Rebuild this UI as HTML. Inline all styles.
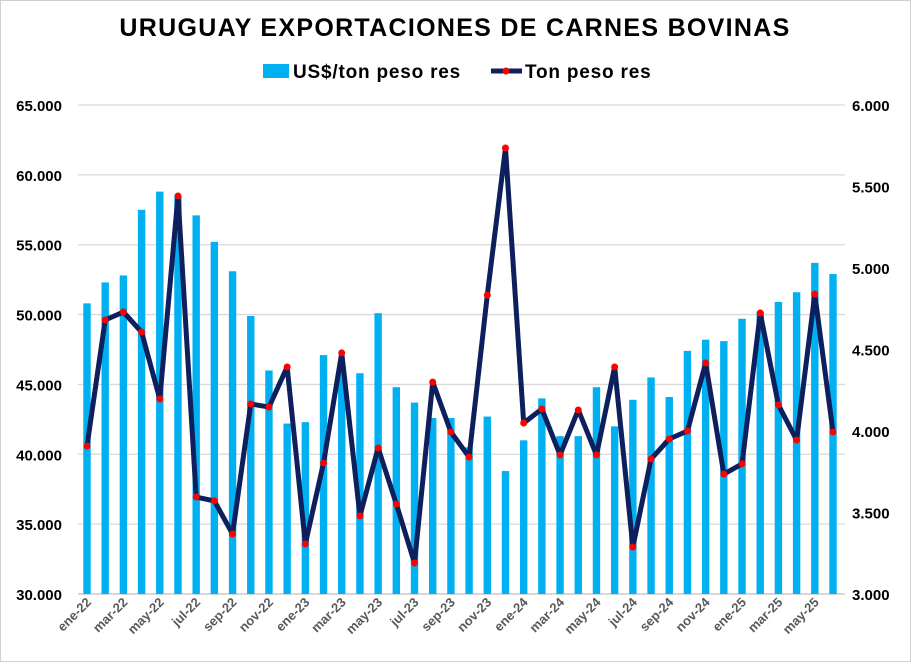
<!DOCTYPE html>
<html><head><meta charset="utf-8"><style>
body{margin:0;background:#fff;font-family:"Liberation Sans",sans-serif;}
</style></head><body>
<svg id="chart" width="911" height="662" xmlns="http://www.w3.org/2000/svg">
<rect x="0.5" y="0.5" width="910" height="661" fill="#fff" stroke="#d0d0d0"/>
<text x="455" y="36" text-anchor="middle" font-size="25" font-weight="bold" letter-spacing="1.3" fill="#000">URUGUAY EXPORTACIONES DE CARNES BOVINAS</text>
<g>
<rect x="263" y="64" width="26" height="14" fill="#00b0f0"/>
<text x="293" y="78" font-size="19" font-weight="bold" letter-spacing="0.8" fill="#000">US$/ton peso res</text>
<line x1="491" y1="71" x2="522" y2="71" stroke="#0d1f5c" stroke-width="5"/>
<circle cx="506" cy="71" r="3.5" fill="#ff0000"/>
<text x="525" y="78" font-size="19" font-weight="bold" letter-spacing="0.8" fill="#000">Ton peso res</text>
</g>
<g id="grid"></g><g id="bars"></g><g id="line"></g><g id="axes"></g>
</svg>
<script>
const months = ["ene-22","feb-22","mar-22","abr-22","may-22","jun-22","jul-22","ago-22","sep-22","oct-22","nov-22","dic-22","ene-23","feb-23","mar-23","abr-23","may-23","jun-23","jul-23","ago-23","sep-23","oct-23","nov-23","dic-23","ene-24","feb-24","mar-24","abr-24","may-24","jun-24","jul-24","ago-24","sep-24","oct-24","nov-24","dic-24","ene-25","feb-25","mar-25","abr-25","may-25","jun-25"];
const priceValues = [50800,52300,52800,57500,58800,58500,57100,55200,53100,49900,46000,42200,42300,47100,46500,45800,50100,44800,43700,42600,42600,40500,42700,38800,41000,44000,41300,41300,44800,42000,43900,45500,44100,47400,48200,48100,49700,50200,50900,51600,53700,52900];
const tonValues = [3908,4681,4730,4607,4196,5442,3595,3571,3368,4166,4147,4393,3307,3804,4479,3479,3896,3552,3190,4300,3994,3840,4834,5736,4049,4135,3853,4129,3853,4393,3288,3828,3951,4000,4417,3736,3798,4724,4160,3945,4840,3994];
const leftTicks = ["30.000","35.000","40.000","45.000","50.000","55.000","60.000","65.000"];
const rightTicks = ["3.000","3.500","4.000","4.500","5.000","5.500","6.000"];
const NS="http://www.w3.org/2000/svg";
const yTop=105,yBottom=594,x0=87,step=(833-87)/41;
const yL=v=>yBottom-(v-30000)/35000*(yBottom-yTop);
const yR=v=>yBottom-(v-3000)/3000*(yBottom-yTop);
const xC=i=>x0+i*step;
function mk(tag,attrs,parent){const e=document.createElementNS(NS,tag);for(const k in attrs)e.setAttribute(k,attrs[k]);document.getElementById(parent).appendChild(e);return e;}
leftTicks.forEach((t,i)=>{
 const v=30000+i*5000,y=yL(v);
 const g=mk("line",{x1:78,x2:845,y1:y,y2:y,stroke:i==0?"#bfbfbf":"#d9d9d9","stroke-width":1.3},"grid");
 
 
 const tx=mk("text",{x:62,y:y+6,"text-anchor":"end","font-size":15,"font-weight":"bold",fill:"#000"},"axes");
 tx.textContent=t;
 
 
});
rightTicks.forEach((t,i)=>{
 const y=yR(3000+i*500);
 const tx=mk("text",{x:852,y:y+6,"font-size":15,"font-weight":"bold",fill:"#000"},"axes");
 tx.textContent=t;
 
 
});
priceValues.forEach((v,i)=>{
 const y=yL(v);
 const b=mk("rect",{x:xC(i)-3.7,y:y,width:7.4,height:yBottom-y,fill:"#00b0f0"},"bars");
 
 
});
const pts=tonValues.map((v,i)=>xC(i)+","+yR(v)).join(" ");
const pl=mk("polyline",{points:pts,fill:"none",stroke:"#0d1f5c","stroke-width":5,"stroke-linejoin":"round"},"line");


tonValues.forEach((v,i)=>{
 const c=mk("circle",{cx:xC(i),cy:yR(v),r:3.5,fill:"#ff0000"},"line");
 
 
});
months.forEach((m,i)=>{
 if(i%2)return;
 const x=xC(i)+5,y=603;
 const tx=mk("text",{x:x,y:y,"text-anchor":"end","font-size":13,"font-weight":"bold",fill:"#595959",transform:`rotate(-45 ${x} ${y})`},"axes");
 tx.textContent=m;
 
 
});
</script>
</body></html>
